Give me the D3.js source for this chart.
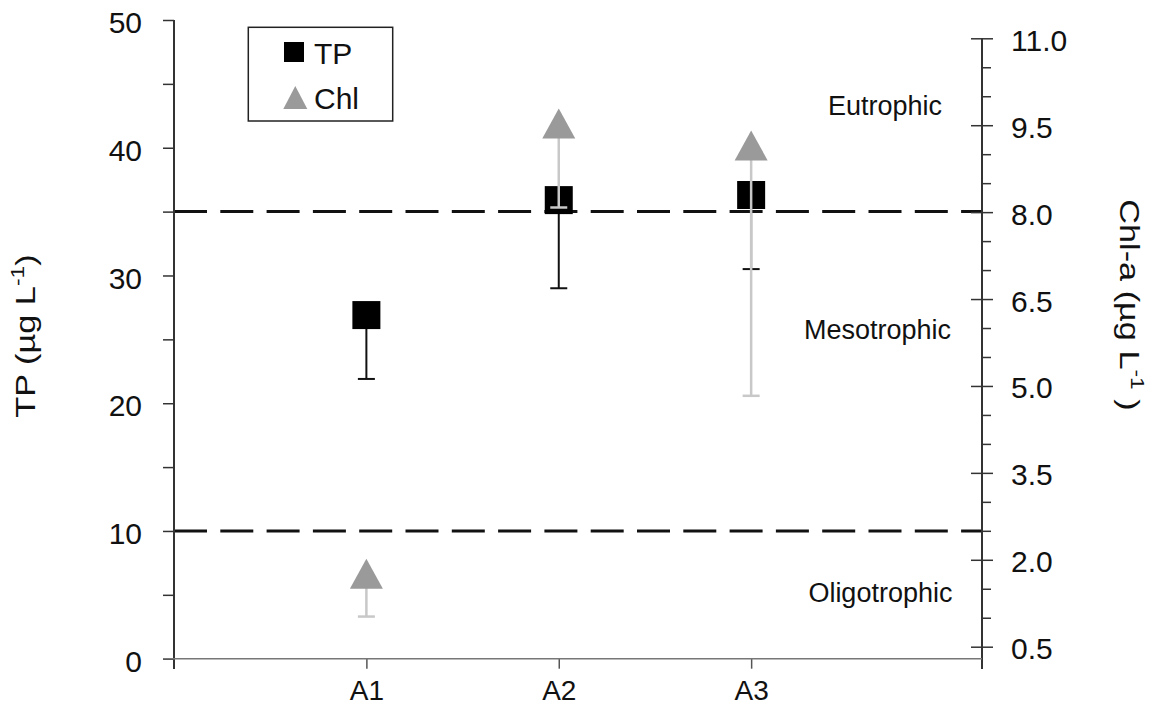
<!DOCTYPE html>
<html>
<head>
<meta charset="utf-8">
<script src="https://cdn.jsdelivr.net/npm/d3@7/dist/d3.min.js"></script>
<style>
  body { margin: 0; background: #fff; }
  svg { display: block; font-family: "Liberation Sans", Arial, sans-serif; }
</style>
</head>
<body>
<div id="chart"></div>
<script>
// sites and values
const sites = ['A1', 'A2', 'A3'];
const tpMean = [26.9, 35.9, 36.3];
const tpLower = [21.9, 29.0, 30.5];
const chlMean = [1.76, 9.53, 9.15];
const chlLower = [1.02, 8.08, 4.83];

const tpTicks = [0, 10, 20, 30, 40, 50];
const tpMinorTicks = [5, 15, 25, 35, 45];
const chlTicks = [0.5, 2.0, 3.5, 5.0, 6.5, 8.0, 9.5, 11.0];
const chlMinorTicks = [1, 1.5, 2.5, 3, 4, 4.5, 5.5, 6, 7, 7.5, 8.5, 9, 10, 10.5];

const tpThresholds = [10, 35];
const zones = ['Eutrophic', 'Mesotrophic', 'Oligotrophic'];

const width = 1154, height = 717;

const svg = d3.select('#chart')
    .append('svg')
    .attr('width', width)
    .attr('height', height);

const x = d3.scaleLinear().domain([0, 4.2]).range([174, 982]);
const yL = d3.scaleLinear().domain([0, 50]).range([658.7, 20]);
const yR = d3.scaleLinear().domain([0.5, 11]).range([646.7, 38.3]);

const x0 = x.range()[0], x1 = x.range()[1];

// threshold dashed lines
svg.append('g')
    .selectAll('line')
    .data(tpThresholds)
    .enter()
    .append('line')
    .attr('x1', x0)
    .attr('x2', x1)
    .attr('y1', d => yL(d))
    .attr('y2', d => yL(d))
    .attr('stroke', '#111')
    .attr('stroke-width', 3)
    .attr('stroke-dasharray', '33,13.3');

// left axis
const leftAxis = svg.append('g')
    .attr('transform', `translate(${x0},0)`)
    .call(d3.axisLeft(yL)
        .tickValues(tpTicks.concat(tpMinorTicks))
        .tickFormat(d => tpTicks.includes(d) ? d : '')
        .tickSize(11)
        .tickPadding(21));
leftAxis.select('.domain').remove();
leftAxis.selectAll('line').attr('stroke', '#333').attr('stroke-width', 1.5);
leftAxis.selectAll('text').attr('font-size', 30).attr('fill', '#111')
    .attr('dy', '0.42em')
    .attr('font-family', '"Liberation Sans", Arial, sans-serif');
leftAxis.append('line')
    .attr('x1', 0).attr('x2', 0)
    .attr('y1', yL(50)).attr('y2', 669)
    .attr('stroke', '#333').attr('stroke-width', 2);

// right axis
const rightAxis = svg.append('g')
    .attr('transform', `translate(${x1},0)`)
    .call(d3.axisRight(yR)
        .tickValues(chlTicks.concat(chlMinorTicks))
        .tickFormat(d => chlTicks.includes(d) ? d3.format('.1f')(d) : '')
        .tickSize(11)
        .tickPadding(18));
rightAxis.select('.domain').remove();
rightAxis.selectAll('.tick line')
    .attr('stroke', '#333')
    .attr('stroke-width', 1.5)
    .attr('x1', d => chlTicks.includes(d) ? -11 : 0)
    .attr('x2', d => chlTicks.includes(d) ? 11 : 9);
rightAxis.selectAll('text').attr('font-size', 30).attr('fill', '#111')
    .attr('dy', '0.4em')
    .attr('font-family', '"Liberation Sans", Arial, sans-serif');
rightAxis.append('line')
    .attr('x1', 0).attr('x2', 0)
    .attr('y1', yR(11)).attr('y2', 669)
    .attr('stroke', '#333').attr('stroke-width', 2);

// bottom axis
const bottomAxis = svg.append('g')
    .attr('transform', `translate(0,${yL(0)})`)
    .call(d3.axisBottom(x)
        .tickValues(sites.map((s, i) => i + 1))
        .tickFormat(d => sites[d - 1])
        .tickSize(10)
        .tickPadding(11));
bottomAxis.select('.domain').remove();
bottomAxis.selectAll('line').attr('stroke', '#555').attr('stroke-width', 1.5);
bottomAxis.selectAll('text').attr('font-size', 28).attr('fill', '#111')
    .attr('font-family', '"Liberation Sans", Arial, sans-serif');
bottomAxis.append('line')
    .attr('x1', 163).attr('x2', x1)
    .attr('y1', 0).attr('y2', 0)
    .attr('stroke', '#777').attr('stroke-width', 1.5);

// TP error bars (minus only)
const tpErr = svg.append('g')
    .selectAll('g')
    .data(sites)
    .enter()
    .append('g');
tpErr.append('line')
    .attr('x1', (d, i) => x(i + 1)).attr('x2', (d, i) => x(i + 1))
    .attr('y1', (d, i) => yL(tpMean[i])).attr('y2', (d, i) => yL(tpLower[i]))
    .attr('stroke', '#111').attr('stroke-width', 2);
tpErr.append('line')
    .attr('x1', (d, i) => x(i + 1) - 8.5).attr('x2', (d, i) => x(i + 1) + 8.5)
    .attr('y1', (d, i) => yL(tpLower[i])).attr('y2', (d, i) => yL(tpLower[i]))
    .attr('stroke', '#111').attr('stroke-width', 2);

// TP markers
const sq = 28;
svg.append('g')
    .selectAll('rect')
    .data(sites)
    .enter()
    .append('rect')
    .attr('x', (d, i) => x(i + 1) - sq / 2)
    .attr('y', (d, i) => yL(tpMean[i]) - sq / 2)
    .attr('width', sq)
    .attr('height', sq)
    .attr('fill', '#000');

// Chl error bars (minus only)
const chlErr = svg.append('g')
    .selectAll('g')
    .data(sites)
    .enter()
    .append('g');
chlErr.append('line')
    .attr('x1', (d, i) => x(i + 1)).attr('x2', (d, i) => x(i + 1))
    .attr('y1', (d, i) => yR(chlMean[i])).attr('y2', (d, i) => yR(chlLower[i]))
    .attr('stroke', '#c8c8c8').attr('stroke-width', 2.5);
chlErr.append('line')
    .attr('x1', (d, i) => x(i + 1) - 8.5).attr('x2', (d, i) => x(i + 1) + 8.5)
    .attr('y1', (d, i) => yR(chlLower[i])).attr('y2', (d, i) => yR(chlLower[i]))
    .attr('stroke', '#c8c8c8').attr('stroke-width', 2.5);

// Chl markers
const triW = 33, triH = 30;
function triangle(cx, cy, w, h) {
    return `M${cx},${cy - h / 2}L${cx + w / 2},${cy + h / 2}L${cx - w / 2},${cy + h / 2}Z`;
}
svg.append('g')
    .selectAll('path')
    .data(sites)
    .enter()
    .append('path')
    .attr('d', (d, i) => triangle(x(i + 1), yR(chlMean[i]), triW, triH))
    .attr('fill', '#9a9a9a');

// trophic zone labels (placed in axis units)
const zoneLabelX = [3.696, 3.657, 3.672];
const zoneLabelTP = [42.6, 25.0, 4.4];
svg.append('g')
    .selectAll('text')
    .data(zones)
    .enter()
    .append('text')
    .attr('x', (d, i) => x(zoneLabelX[i]))
    .attr('y', (d, i) => yL(zoneLabelTP[i]))
    .attr('text-anchor', 'middle')
    .attr('font-size', 27)
    .attr('fill', '#111')
    .text(d => d);

// axis titles (stretched along the reading direction as in the figure)
const tpTitle = svg.append('text')
    .attr('transform', 'translate(35,336) rotate(-90) scale(1.27,1)')
    .attr('text-anchor', 'middle')
    .attr('font-size', 27)
    .attr('fill', '#111');
tpTitle.append('tspan').text('TP (\u00b5g L');
tpTitle.append('tspan').attr('font-size', 18).attr('dy', -11).text('-1');
tpTitle.append('tspan').attr('dy', 11).text(')');

const chlTitle = svg.append('text')
    .attr('transform', 'translate(1120,305) rotate(90) scale(1.27,1)')
    .attr('text-anchor', 'middle')
    .attr('font-size', 27)
    .attr('fill', '#111');
chlTitle.append('tspan').text('Chl-a (\u00b5g L');
chlTitle.append('tspan').attr('font-size', 18).attr('dy', -11).text('-1');
chlTitle.append('tspan').attr('dy', 11).text(' )');

// legend
const legend = svg.append('g');
legend.append('rect')
    .attr('x', 248.3).attr('y', 27.3)
    .attr('width', 144.4).attr('height', 93.7)
    .attr('fill', '#fff')
    .attr('stroke', '#222')
    .attr('stroke-width', 1.5);
legend.append('rect')
    .attr('x', 284).attr('y', 42)
    .attr('width', 20).attr('height', 20)
    .attr('fill', '#000');
legend.append('path')
    .attr('d', triangle(295.3, 97.5, 24, 23))
    .attr('fill', '#9a9a9a');
legend.append('text')
    .attr('x', 314).attr('y', 64)
    .attr('font-size', 30).attr('fill', '#111')
    .text('TP');
legend.append('text')
    .attr('x', 314).attr('y', 109)
    .attr('font-size', 30).attr('fill', '#111')
    .text('Chl');
</script>
</body>
</html>
